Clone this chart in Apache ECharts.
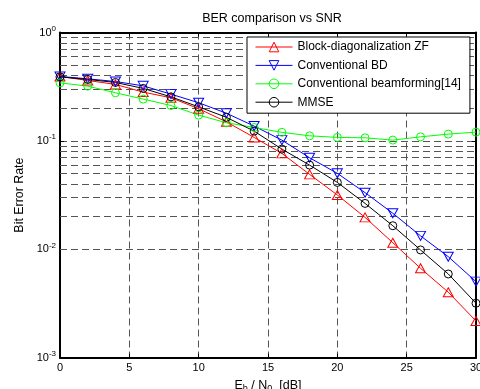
<!DOCTYPE html>
<html>
<head>
<meta charset="utf-8">
<script src="https://cdn.jsdelivr.net/npm/echarts@6/dist/echarts.min.js"></script>
<style>
html,body{margin:0;padding:0;background:#fff;}
#chart{width:480px;height:389px;}
</style>
</head>
<body>
<div id="chart"></div>
<script>
var snr = [0,2,4,6,8,10,12,14,16,18,20,22,24,26,28,30];
var berZF = [0.393,0.361,0.332,0.282,0.250,0.198,0.150,0.1077,0.0767,0.0491,0.0317,0.0197,0.0115,0.00668,0.00402,0.00218];
var berBD = [0.393,0.374,0.353,0.322,0.270,0.225,0.180,0.137,0.1017,0.0699,0.0502,0.0333,0.0215,0.0133,0.00855,0.00503];
var berBF = [0.343,0.320,0.278,0.243,0.212,0.173,0.147,0.133,0.120,0.1114,0.1077,0.1068,0.1017,0.109,0.1155,0.1205];
var berMMSE = [0.390,0.369,0.346,0.305,0.255,0.206,0.165,0.123,0.0840,0.0598,0.0414,0.0265,0.0165,0.00986,0.00592,0.00318];
var seriesNames = ['Block-diagonalization ZF','Conventional BD','Conventional beamforming[14]','MMSE'];
var minorTicks = [0.002,0.003,0.004,0.005,0.006,0.007,0.008,0.009,0.02,0.03,0.04,0.05,0.06,0.07,0.08,0.09,0.2,0.3,0.4,0.5,0.6,0.7,0.8,0.9];

var FONT = 'Liberation Sans, Arial, sans-serif';
var GRID_COLOR = '#555';
var DASH = [7,4];
var AXW = 2;

function pairs(ys){ return snr.map(function(x,i){ return [x, ys[i]]; }); }

function mkSeries(name, ys, color, symbol, size, rot){
  return {
    name: name, type: 'line', data: pairs(ys), z: 5,
    symbol: symbol, symbolSize: size, symbolRotate: rot || 0,
    showAllSymbol: true,
    lineStyle: {color: color, width: 1},
    itemStyle: {color: 'rgba(0,0,0,0)', borderColor: color, borderWidth: 1},
    emphasis: {disabled: true},
    animation: false
  };
}

var chart = echarts.init(document.getElementById('chart'), null, {renderer: 'canvas'});
var option = {
  animation: false,
  backgroundColor: '#fff',
  title: {
    text: 'BER comparison vs SNR', left: 267, top: 7, textAlign: 'center',
    textStyle: {fontFamily: FONT, fontSize: 12.5, fontWeight: 'normal', color: '#000'}
  },
  grid: {left: 60, right: 4, top: 32.5, bottom: 31.3, containLabel: false, outerBoundsMode: 'none'},
  legend: {
    data: seriesNames, orient: 'vertical', left: 247, top: 37,
    backgroundColor: '#fff', borderColor: '#000', borderWidth: 1, borderRadius: 0,
    padding: [4, 9, 5, 8], itemGap: 6.4, itemWidth: 37, itemHeight: 12,
    symbolRotate: 'inherit',
    lineStyle: {width: 1},
    itemStyle: {borderWidth: 1},
    textStyle: {fontFamily: FONT, fontSize: 12, color: '#000'},
    selectedMode: false, z: 10
  },
  xAxis: [{
    type: 'value', min: 0, max: 30, interval: 5, position: 'bottom',
    name: '{n|E}{s|b}{n| / N}{s|0}{n|  [dB]}', nameLocation: 'middle', nameGap: 17,
    nameTextStyle: {fontFamily: FONT, color: '#000',
      rich: {n: {fontFamily: FONT, fontSize: 12.5, color: '#000'},
             s: {fontFamily: FONT, fontSize: 9, color: '#000', padding: [7,0,0,0]}}},
    axisLine: {show: true, lineStyle: {color: '#000', width: AXW}},
    axisTick: {show: true, inside: true, length: 4, lineStyle: {color: '#000'}},
    axisLabel: {fontFamily: FONT, fontSize: 11, color: '#000', margin: 5},
    splitLine: {show: true, lineStyle: {color: GRID_COLOR, type: DASH, width: 1}}
  }, {
    type: 'value', min: 0, max: 30, interval: 5, position: 'top',
    axisLine: {show: true, onZero: false, lineStyle: {color: '#000', width: AXW}},
    axisTick: {show: true, inside: true, length: 4, lineStyle: {color: '#000'}},
    axisLabel: {show: false}, splitLine: {show: false}
  }],
  yAxis: [{
    type: 'log', logBase: 10, min: 0.001, max: 1, position: 'left',
    name: 'Bit Error Rate', nameLocation: 'middle', nameGap: 33,
    nameTextStyle: {fontFamily: FONT, fontSize: 12.4, color: '#000'},
    axisLine: {show: true, onZero: false, lineStyle: {color: '#000', width: AXW}},
    axisTick: {show: true, inside: true, length: 4, lineStyle: {color: '#000'}},
    axisLabel: {
      margin: 4, color: '#000',
      formatter: function(v){
        var e = Math.round(Math.log10(v));
        return '{b|10}{s|' + e + '}';
      },
      rich: {b: {fontFamily: FONT, fontSize: 11, color: '#000'},
             s: {fontFamily: FONT, fontSize: 8, color: '#000', padding: [0,0,8,0]}}
    },
    splitLine: {show: true, lineStyle: {color: GRID_COLOR, type: DASH, width: 1}}
  }, {
    type: 'log', logBase: 10, min: 0.001, max: 1, position: 'right',
    axisLine: {show: true, onZero: false, lineStyle: {color: '#000', width: AXW}},
    axisTick: {show: true, inside: true, length: 4, lineStyle: {color: '#000'}},
    axisLabel: {show: false}, splitLine: {show: false}
  }],
  series: [
    {
      name: 'grid-minor', type: 'line', data: [], z: 1, silent: true,
      markLine: {
        silent: true, symbol: 'none', animation: false, z: 1,
        label: {show: false},
        lineStyle: {color: GRID_COLOR, type: DASH, width: 1},
        emphasis: {disabled: true},
        data: minorTicks.map(function(v){ return {yAxis: v}; })
      }
    },
    mkSeries(seriesNames[0], berZF, '#ff0000', 'triangle', [10,9], 0),
    mkSeries(seriesNames[1], berBD, '#0000ff', 'triangle', [10,9], 180),
    mkSeries(seriesNames[2], berBF, '#00ff00', 'circle', 8, 0),
    mkSeries(seriesNames[3], berMMSE, '#000000', 'circle', 8, 0)
  ]
};
chart.setOption(option);
</script>
</body>
</html>
